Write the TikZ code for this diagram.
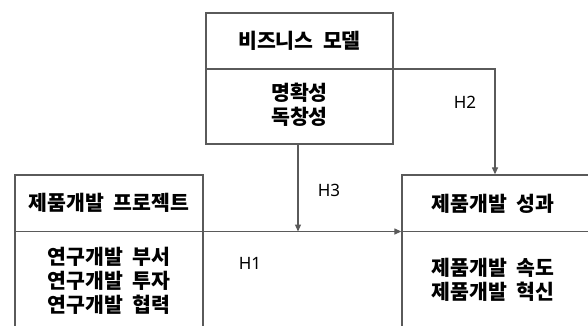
\documentclass[tikz,border=0pt]{standalone}
\usepackage{fontspec}
\newfontfamily\kr[WordSpace=2]{Noto Sans CJK KR}
\newfontfamily\lab{Noto Sans}
\usetikzlibrary{arrows.meta}
\definecolor{linegray}{HTML}{5A5A5A}
\tikzset{
  box/.style={draw=linegray, line width=1.3pt, inner sep=0pt, rectangle},
  divline/.style={draw=linegray, line width=1.3pt},
  conn/.style={draw=linegray, line width=1.2pt, -{Triangle[length=7pt,width=6pt]}},
  ktext/.style={font=\kr\bfseries\fontsize{20.5}{24}\selectfont, align=center, inner sep=0pt, text=black},
  hlabel/.style={font=\lab\fontsize{17}{20}\selectfont, inner sep=0pt, text=black}
}
\begin{document}
\begin{tikzpicture}[x=1pt, y=-1pt]
\useasboundingbox (0,0) rectangle (588,325);
\clip (0,0) rectangle (588,325);
% boxes
\node[box, minimum width=187pt, minimum height=131pt] (bm) at (299.5,78.5) {};
\node[box, minimum width=188pt, minimum height=170pt] (pp) at (109,260) {};
\node[box, minimum width=198pt, minimum height=170pt] (pf) at (501,260) {};
\coordinate (bdiv) at (0,69);
\coordinate (hdiv) at (0,231.5);
\coordinate (h2c) at (495,69);
% dividers
\draw[divline] (bm.west |- bdiv) -- (bm.east |- bdiv);
\draw[divline] (pp.west |- hdiv) -- (pp.east |- hdiv);
\draw[divline] (pf.west |- hdiv) -- (pf.east |- hdiv);
% texts
\node[ktext] (bmt) at (299.5,41) {비즈니스 모델};
\node[ktext] (bmb) at (299.5,105) {명확성\\독창성};
\node[ktext] (ppt) at (109,203) {제품개발 프로젝트};
\node[ktext] (ppb) at (109,280.5) {연구개발 부서\\연구개발 투자\\연구개발 협력};
\node[ktext] (pft) at (493,204) {제품개발 성과};
\node[ktext] (pfb) at (493,279.5) {제품개발 속도\\제품개발 혁신};
% connectors
\draw[conn] (pp.east |- hdiv) -- (pf.west |- hdiv);
\draw[conn] (bm.south -| 298,0) -- (298,231.5);
\draw[conn] (bm.east |- h2c) -- (h2c) -- (h2c |- pf.north);
% labels
\node[hlabel] (h1) at (250,263) {H1};
\node[hlabel] (h2) at (465,102.5) {H2};
\node[hlabel] (h3) at (329,190) {H3};
\end{tikzpicture}
\end{document}
